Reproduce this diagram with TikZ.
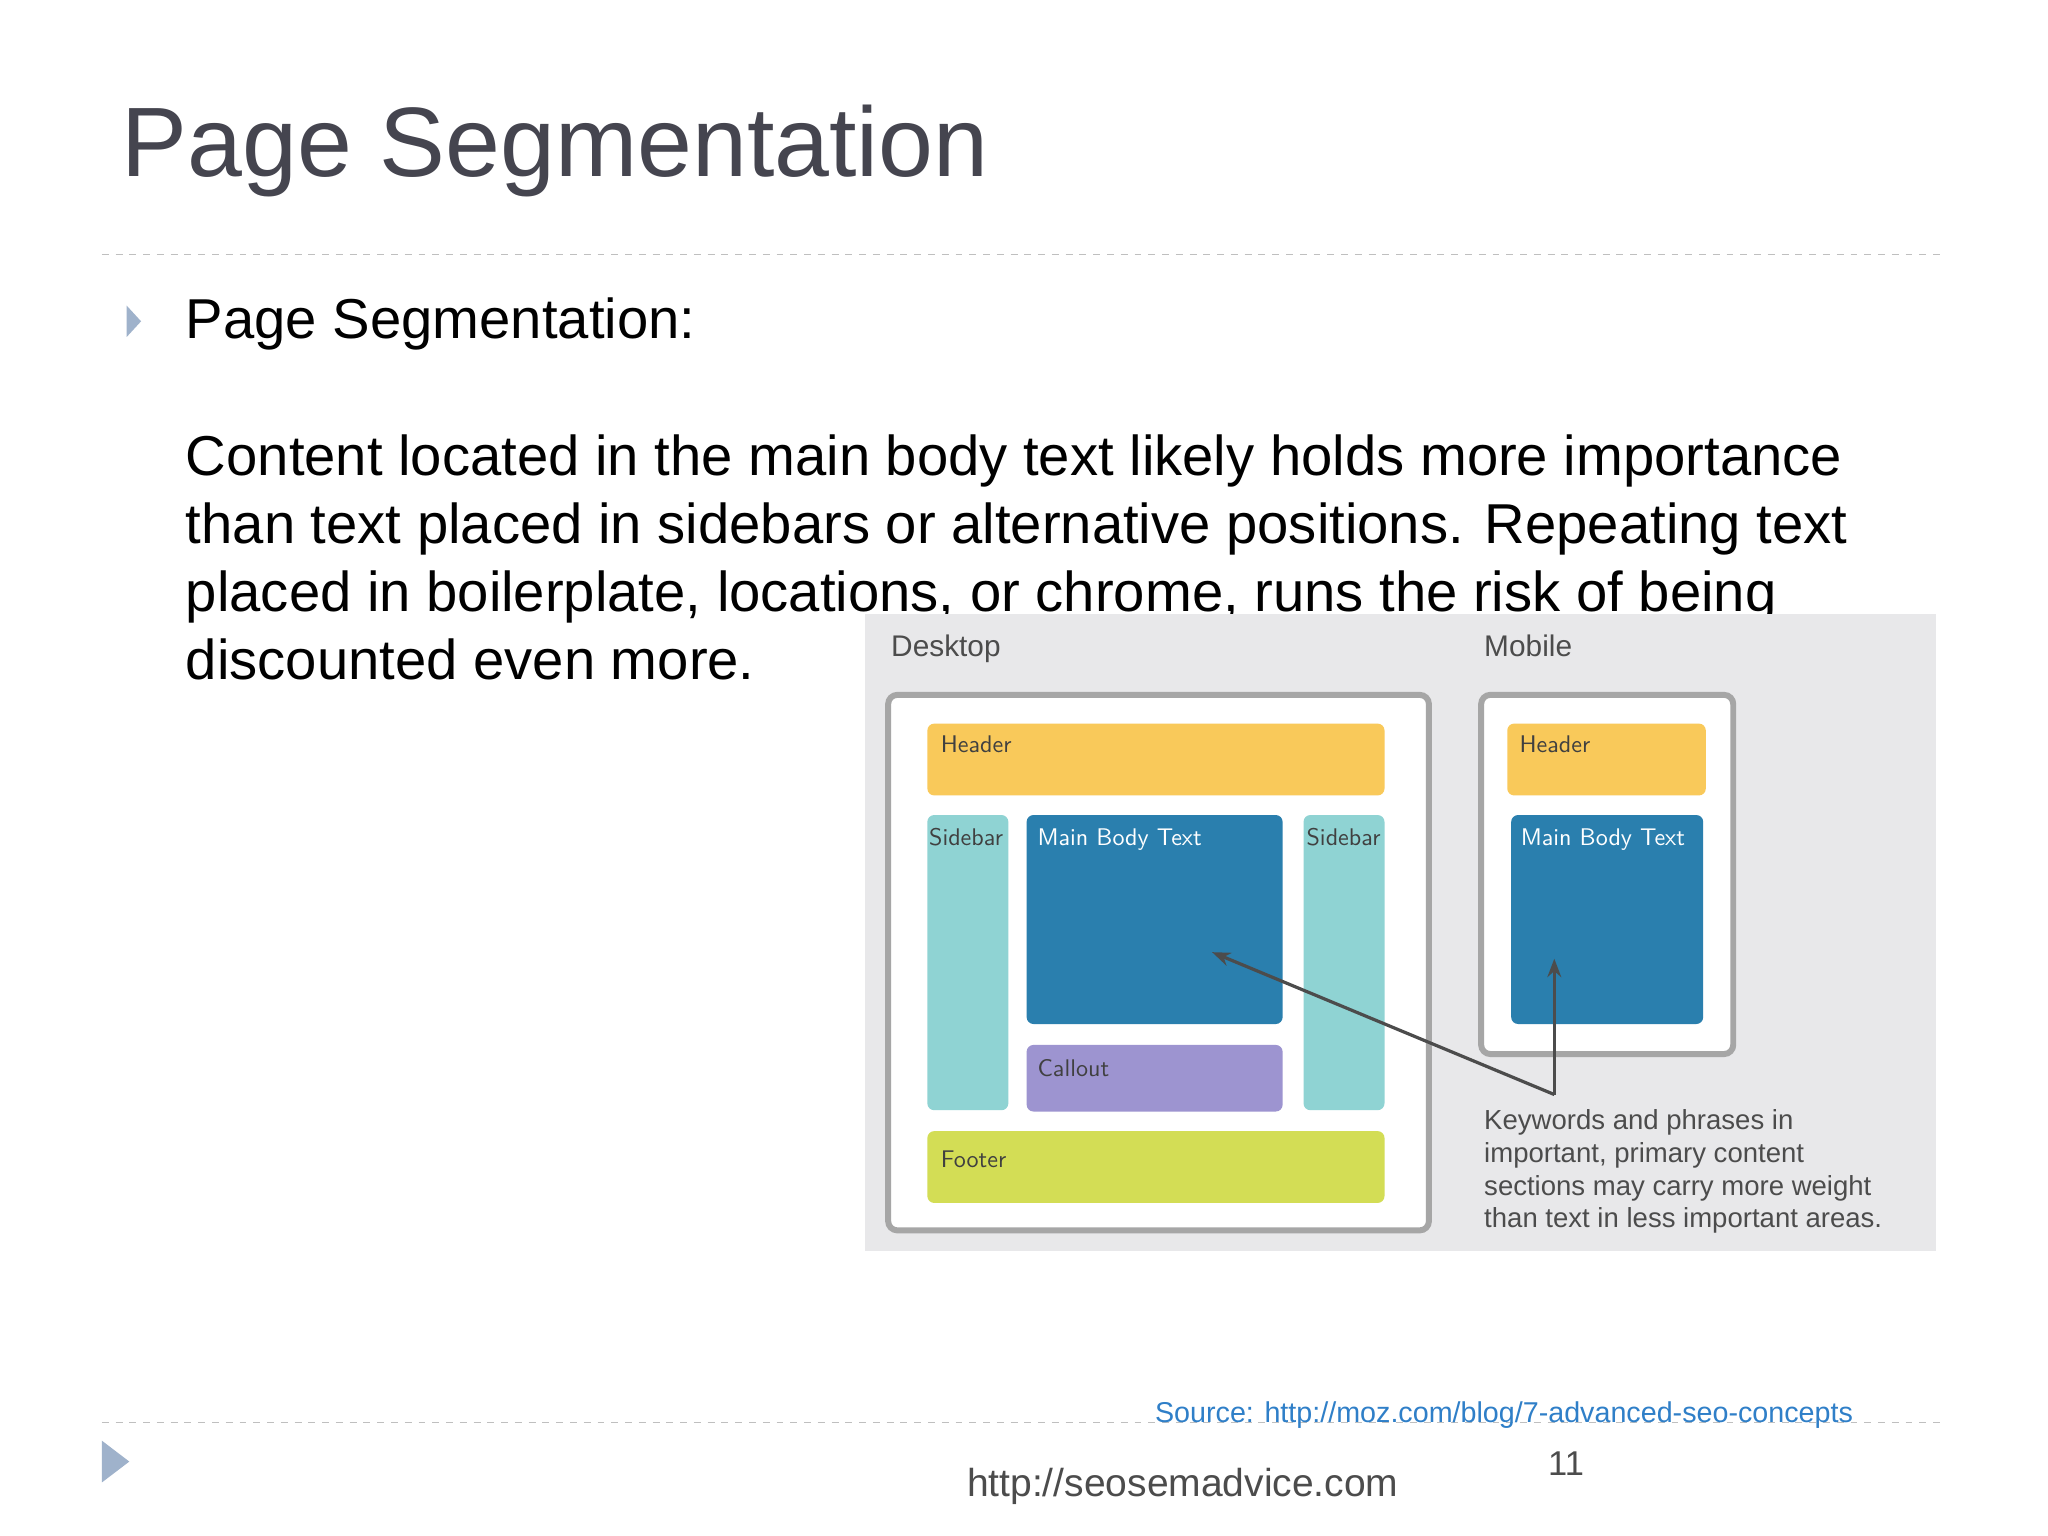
\documentclass[tikz,border=0pt]{standalone}
\usepackage{fontspec}
\setmainfont{Liberation Sans}
\usetikzlibrary{arrows.meta}
\definecolor{titlec}{HTML}{45454F}
\definecolor{panel}{HTML}{E8E8EA}
\definecolor{hdr}{HTML}{F9C95A}
\definecolor{side}{HTML}{8FD3D3}
\definecolor{mainb}{HTML}{2A7FAE}
\definecolor{callc}{HTML}{9D94D0}
\definecolor{foot}{HTML}{D3DD55}
\definecolor{linkc}{HTML}{2F7FC8}
\definecolor{tri}{HTML}{9FB2CB}
\tikzset{
 box/.style={rounded corners=3pt,draw=none},
 lab/.style={anchor=base west,inner sep=0pt,font=\fontsize{10.5}{12}\selectfont\sffamily},
 body/.style={anchor=base west,inner sep=0pt,font=\fontsize{24.5}{28}\selectfont},
 frame/.style={rounded corners=4pt,draw=gray!70,line width=2.6pt,fill=white},
 small/.style={anchor=base west,inner sep=0pt,font=\fontsize{12}{14}\selectfont,text=black!70},
 arr/.style={draw=black!70,line width=1.4pt,-{Stealth[length=8pt,width=6pt]}}
}
\begin{document}
\begin{tikzpicture}[x=0.02cm,y=-0.02cm]
\fill[white] (0,0) rectangle (1568,1176);
\useasboundingbox (0,0) rectangle (1568,1176);
\node[anchor=base west,inner sep=0pt,text=titlec,font=\fontsize{43}{48}\selectfont] (title) at (93,135) {Page Segmentation};
\draw[dashed,draw=gray!50,line width=0.6pt] (78,195) -- (1490,195);
\fill[tri] (97,234) -- (108,246) -- (97,258) -- cycle;
\node[body] (h) at (142,259) {Page Segmentation:};
\node[body] (l1) at (142,364) {Content located in the main body text likely holds more importance};
\node[body] (l2) at (142,416) {than text placed in sidebars or alternative positions. Repeating text};
\node[body] (l3) at (142,468) {placed in boilerplate, locations, or chrome, runs the risk of being};
\node[body] (l4) at (142,520) {discounted even more.};
% panel
\fill[panel] (662,470) rectangle (1482,958);
\node[small,font=\fontsize{13}{15}\selectfont] (dt) at (682,503) {Desktop};
\node[small,font=\fontsize{13}{15}\selectfont] (mb) at (1136,503) {Mobile};
\draw[frame] (680,532) rectangle (1094,942);
\fill[box,fill=hdr] (710,554) rectangle (1060,609);
\node[lab,text=black!75] at (720,576) {Header};
\fill[box,fill=side] (710,624) rectangle (772,850);
\node[lab,text=black!75] at (711,647) {Sidebar};
\fill[box,fill=mainb] (786,624) rectangle (982,784);
\node[lab,text=white] at (794,647) {Main Body Text};
\fill[box,fill=side] (998,624) rectangle (1060,850);
\node[lab,text=black!75] at (1000,647) {Sidebar};
\fill[box,fill=callc] (786,800) rectangle (982,851);
\node[lab,text=black!75] at (794,824) {Callout};
\fill[box,fill=foot] (710,866) rectangle (1060,921);
\node[lab,text=black!75] at (720,894) {Footer};
\draw[frame] (1134,532) rectangle (1327,807);
\fill[box,fill=hdr] (1154,554) rectangle (1306,609);
\node[lab,text=black!75] at (1163,576) {Header};
\fill[box,fill=mainb] (1157,624) rectangle (1304,784);
\node[lab,text=white] at (1164,647) {Main Body Text};
\coordinate (j) at (1190,838);
\coordinate (tgtd) at (928,729);
\coordinate (tgtm) at (1190,734);
\draw[arr] (j) -- (tgtd);
\draw[arr] (j) -- (tgtm);
\node[small] (k1) at (1136,865) {Keywords and phrases in};
\node[small] (k2) at (1136,890) {important, primary content};
\node[small] (k3) at (1136,915) {sections may carry more weight};
\node[small] (k4) at (1136,940) {than text in less important areas.};
% footer
\draw[dashed,draw=gray!50,line width=0.6pt] (78,1089) -- (1490,1089);
\node[anchor=base west,inner sep=0pt,text=linkc,font=\fontsize{12.5}{14}\selectfont] (src) at (884,1089) {Source: http://moz.com/blog/7-advanced-seo-concepts};
\fill[tri] (78,1103) -- (99,1119) -- (78,1135) -- cycle;
\node[anchor=base west,inner sep=0pt,text=black!70,font=\fontsize{15}{17}\selectfont] (pg) at (1185,1130) {11};
\node[anchor=base west,inner sep=0pt,text=black!70,font=\fontsize{17}{19}\selectfont] (url) at (740,1146) {http://seosemadvice.com};
\end{tikzpicture}
\end{document}
